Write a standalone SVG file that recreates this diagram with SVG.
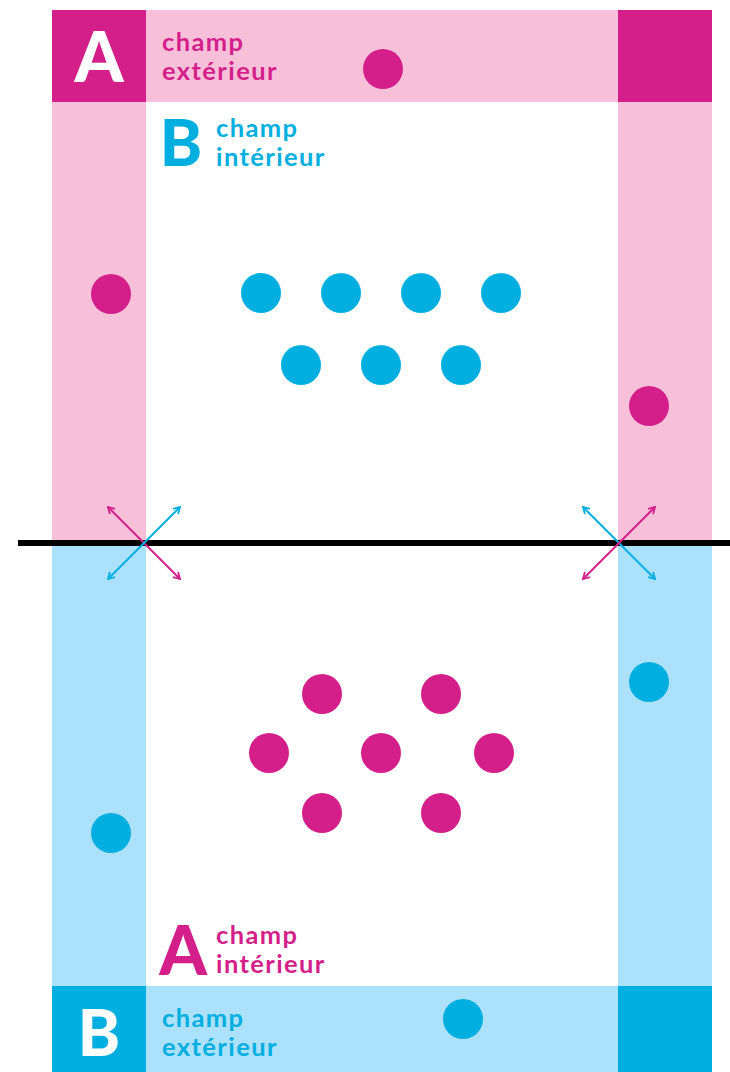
<svg xmlns="http://www.w3.org/2000/svg" width="730" height="1072" viewBox="0 0 730 1072">
<defs>
<style>
.lp{fill:#f8c0d8}.dp{fill:#d41f8a}.lb{fill:#abe1fa}.db{fill:#00aee0}
.t{font-family:Lato,"Noto Sans",sans-serif;font-weight:700;font-size:25.5px;letter-spacing:1.4px}
.big{font-family:Lato,"Noto Sans",sans-serif;font-weight:900;font-size:70px}
.tp{fill:#d41f8a}.tb{fill:#00aee0}.tw{fill:#ffffff}
.ap{stroke:#d41f8a;stroke-width:2;fill:none}
.ab{stroke:#00aee0;stroke-width:2;fill:none}
</style>
<marker id="mp" viewBox="0 0 10 10" refX="9" refY="5" markerWidth="9" markerHeight="9" orient="auto-start-reverse" markerUnits="userSpaceOnUse"><path d="M2,1 L9,5 L2,9" fill="none" stroke="#d41f8a" stroke-width="2"/></marker>
<marker id="mb" viewBox="0 0 10 10" refX="9" refY="5" markerWidth="9" markerHeight="9" orient="auto-start-reverse" markerUnits="userSpaceOnUse"><path d="M2,1 L9,5 L2,9" fill="none" stroke="#00aee0" stroke-width="2"/></marker>
</defs>
<rect width="730" height="1072" fill="#ffffff"/>
<g id="zones">
<rect class="lp" x="52" y="10" width="660" height="92"/>
<rect class="lp" x="52" y="102" width="94" height="441"/>
<rect class="lp" x="618" y="102" width="94" height="441"/>
<rect class="dp" x="52" y="10" width="94" height="92"/>
<rect class="dp" x="618" y="10" width="94" height="92"/>
<rect class="lb" x="52" y="543" width="94" height="443"/>
<rect class="lb" x="618" y="543" width="94" height="443"/>
<rect class="lb" x="52" y="986" width="660" height="86"/>
<rect class="db" x="52" y="986" width="94" height="86"/>
<rect class="db" x="618" y="986" width="94" height="86"/>
</g>
<g id="labels">
<text class="big tw" x="99" y="82" text-anchor="middle">A</text>
<text class="t tp" x="162" y="51">champ</text>
<text class="t tp" x="162" y="80">extérieur</text>
<text class="big tb" x="181" y="166" text-anchor="middle" style="font-size:64px">B</text>
<text class="t tb" x="216" y="137">champ</text>
<text class="t tb" x="216" y="166">intérieur</text>
<text class="big tp" x="183" y="975" text-anchor="middle" style="font-size:68px">A</text>
<text class="t tp" x="216" y="944">champ</text>
<text class="t tp" x="216" y="973">intérieur</text>
<text class="big tw" x="99" y="1056" text-anchor="middle" style="font-size:64px">B</text>
<text class="t tb" x="162" y="1027">champ</text>
<text class="t tb" x="162" y="1056">extérieur</text>
</g>
<g id="players">
<circle class="dp" cx="383" cy="69" r="20"/>
<circle class="dp" cx="111" cy="294" r="20"/>
<circle class="dp" cx="649" cy="406" r="20"/>
<circle class="db" cx="261" cy="293" r="20"/>
<circle class="db" cx="341" cy="293" r="20"/>
<circle class="db" cx="421" cy="293" r="20"/>
<circle class="db" cx="501" cy="293" r="20"/>
<circle class="db" cx="301" cy="365" r="20"/>
<circle class="db" cx="381" cy="365" r="20"/>
<circle class="db" cx="461" cy="365" r="20"/>
<circle class="dp" cx="322" cy="694" r="20"/>
<circle class="dp" cx="441" cy="694" r="20"/>
<circle class="dp" cx="269" cy="753" r="20"/>
<circle class="dp" cx="381" cy="753" r="20"/>
<circle class="dp" cx="494" cy="753" r="20"/>
<circle class="dp" cx="322" cy="813" r="20"/>
<circle class="dp" cx="441" cy="813" r="20"/>
<circle class="db" cx="649" cy="682" r="20"/>
<circle class="db" cx="111" cy="833" r="20"/>
<circle class="db" cx="463" cy="1019" r="20"/>
</g>
<g id="connectors">
<line x1="18" y1="543" x2="730" y2="543" stroke="#000" stroke-width="6"/>
<line class="ap" x1="108" y1="507" x2="180" y2="579" marker-start="url(#mp)" marker-end="url(#mp)"/>
<line class="ab" x1="180" y1="507" x2="108" y2="579" marker-start="url(#mb)" marker-end="url(#mb)"/>
<line class="ab" x1="583" y1="507" x2="655" y2="579" marker-start="url(#mb)" marker-end="url(#mb)"/>
<line class="ap" x1="655" y1="507" x2="583" y2="579" marker-start="url(#mp)" marker-end="url(#mp)"/>
</g>
</svg>
